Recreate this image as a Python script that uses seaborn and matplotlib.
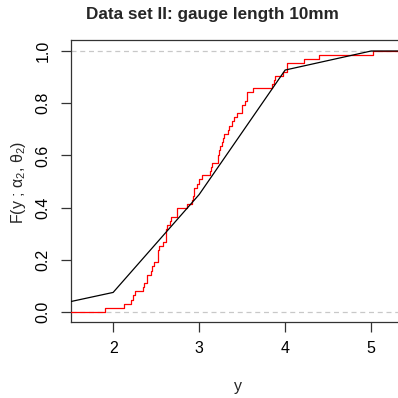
import numpy as np
import pandas as pd
import matplotlib
matplotlib.use("Agg")
import matplotlib.pyplot as plt
import seaborn as sns

# Observed strengths (gauge length 10mm)
strength = [1.901, 2.132, 2.203, 2.228, 2.257, 2.350, 2.361, 2.396, 2.397, 2.445,
            2.454, 2.474, 2.518, 2.522, 2.525, 2.532, 2.575, 2.614, 2.616, 2.618,
            2.624, 2.659, 2.675, 2.738, 2.740, 2.856, 2.917, 2.928, 2.937, 2.937,
            2.977, 2.996, 3.030, 3.125, 3.139, 3.145, 3.220, 3.223, 3.235, 3.243,
            3.264, 3.272, 3.294, 3.332, 3.346, 3.377, 3.408, 3.435, 3.493, 3.501,
            3.537, 3.554, 3.562, 3.628, 3.852, 3.871, 3.886, 3.971, 4.024, 4.027,
            4.225, 4.395, 5.020]

# Fitted CDF evaluated on a coarse grid
grid_y = [1, 2, 3, 4, 5, 6]
fitted_F = [0.004, 0.075, 0.45, 0.927, 1.0, 1.0]

x_ticks = [2, 3, 4, 5]
y_ticks = [0.0, 0.2, 0.4, 0.6, 0.8, 1.0]
y_tick_labels = ["0.0", "0.2", "0.4", "0.6", "0.8", "1.0"]

sns.set_theme(style="white")
plt.rcParams["font.family"] = ["Liberation Sans", "DejaVu Sans"]
plt.rcParams["mathtext.fontset"] = "custom"
plt.rcParams["mathtext.rm"] = "Liberation Sans"
plt.rcParams["mathtext.it"] = "Liberation Sans"

fig = plt.figure(figsize=(3.98, 3.98), dpi=100)
W = 398.0
x0, x1 = 1.51, 5.5
pxu = 86.0
left_px, bottom_px, top_px = 71, 322, 40
ax = fig.add_axes([left_px / W, (W - bottom_px) / W,
                   (x1 - x0) * pxu / W, (bottom_px - top_px) / W])
ax.set_xlim(x0, x1)
ax.set_ylim(-10 / 261, 1 + 11 / 261)

# Reference lines
for h in [0.0, 1.0]:
    ax.axhline(h, color="#c8c8c8", lw=0.9, ls=(0, (4, 3)), zorder=1)

# Empirical CDF (red steps)
df = pd.DataFrame({"y": strength})
sns.ecdfplot(data=df, x="y", ax=ax, color="red", lw=0.9, zorder=3)
ax.plot([x0, min(strength)], [0, 0], color="red", lw=0.9, zorder=3)
ax.plot([max(strength), x1], [1, 1], color="red", lw=0.9, zorder=3)

# Fitted CDF (black)
fit_df = pd.DataFrame({"y": grid_y, "F": fitted_F})
sns.lineplot(data=fit_df, x="y", y="F", ax=ax, color="black", lw=0.9, zorder=4)

ax.set_xticks(x_ticks)
ax.set_xticklabels([str(t) for t in x_ticks])
ax.set_yticks(y_ticks)
ax.set_yticklabels(y_tick_labels, rotation=90, va="center")
ax.tick_params(axis="both", direction="out", length=7, width=0.9,
               color="#333333", labelsize=11.5, labelcolor="black",
               bottom=True, left=True)
ax.tick_params(axis="x", pad=7)
ax.tick_params(axis="y", pad=7.5)
ax.set_xlabel("")
ax.set_ylabel("")
for side in ["left", "bottom", "top"]:
    ax.spines[side].set_visible(True)
    ax.spines[side].set_color("#333333")
    ax.spines[side].set_linewidth(0.9)
ax.spines["right"].set_visible(False)
ax.grid(False)

fig.text(212 / W, 1 - 15 / W, "Data set II: gauge length 10mm",
         ha="center", va="center", fontsize=12.3, fontweight="bold")
fig.text(238 / W, 1 - 386 / W, "y", ha="center", va="center", fontsize=11.5)
fig.text(19 / W, 1 - 182 / W, r"F(y ; $\alpha_2$, $\theta_2$)",
         ha="center", va="center", rotation=90, fontsize=11.5)

fig.savefig("out.png", dpi=100)
